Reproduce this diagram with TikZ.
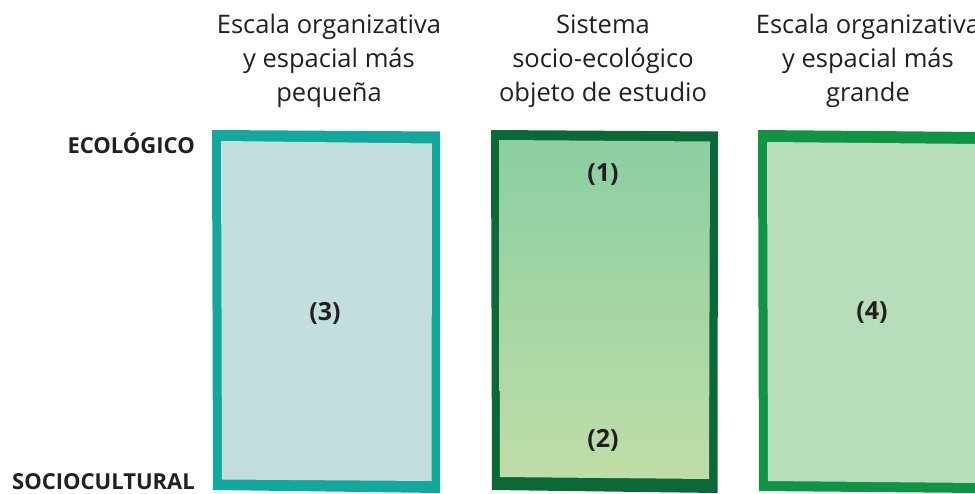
\documentclass[tikz,border=0pt]{standalone}
\usepackage{fontspec}
\setmainfont{Open Sans}
\definecolor{tealb}{HTML}{13A89E}
\definecolor{tealf}{HTML}{C3DFDD}
\definecolor{darkg}{HTML}{0B6837}
\definecolor{gtop}{HTML}{8DCFA3}
\definecolor{gbot}{HTML}{C2DEA6}
\definecolor{greenb}{HTML}{0E9443}
\definecolor{greenf}{HTML}{B7DDBA}
\definecolor{txt}{HTML}{231F20}
\pgfdeclareverticalshading{boxgrad}{100bp}{color(0bp)=(gbot); color(23bp)=(gbot); color(73bp)=(gtop); color(100bp)=(gtop)}
\begin{document}
\begin{tikzpicture}[x=1pt,y=-1pt,
  title/.style={align=center,font=\fontsize{25.5}{34}\selectfont,text=txt,inner sep=0pt},
  side/.style={font=\fontsize{22}{24}\selectfont\bfseries,text=txt,inner sep=0pt,anchor=east},
  num/.style={font=\fontsize{25}{28}\selectfont\bfseries,text=txt,inner sep=0pt}]
\useasboundingbox (0,0) rectangle (975,493);
\fill[white] (0,0) rectangle (975,493);
% box 3
\fill[tealb] (212,130) -- (440,131.5) -- (440,493) -- (213,490) -- cycle;
\fill[tealf] (221,141) -- (432,143.5) -- (431.5,481) -- (222,479.5) -- cycle;
% box 1
\fill[darkg] (491,130) -- (718,131.5) -- (717.5,493) -- (492,490) -- cycle;
\shade[shading=boxgrad] (499,140) -- (710,141.5) -- (709,479) -- (500,477) -- cycle;
% box 4
\fill[greenb] (758,130) -- (980,132) -- (980,493) -- (759,491) -- cycle;
\fill[greenf] (767,142) -- (980,144) -- (980,483) -- (768,481) -- cycle;
% titles
\node[title] (t3) at (329,61) {Escala organizativa\\y espacial más\\pequeña};
\node[title] (t1) at (603,61) {Sistema\\socio-ecológico\\objeto de estudio};
\node[title] (t4) at (868,61) {Escala organizativa\\y espacial más\\grande};
% side labels
\node[side] (eco) at (195,143) {ECOLÓGICO};
\node[side] (soc) at (195,482) {SOCIOCULTURAL};
% numbers
\node[num] (n3) at (325,313) {(3)};
\node[num] (n1) at (603,175) {(1)};
\node[num] (n2) at (603,440) {(2)};
\node[num] (n4) at (872,313) {(4)};
\end{tikzpicture}
\end{document}
